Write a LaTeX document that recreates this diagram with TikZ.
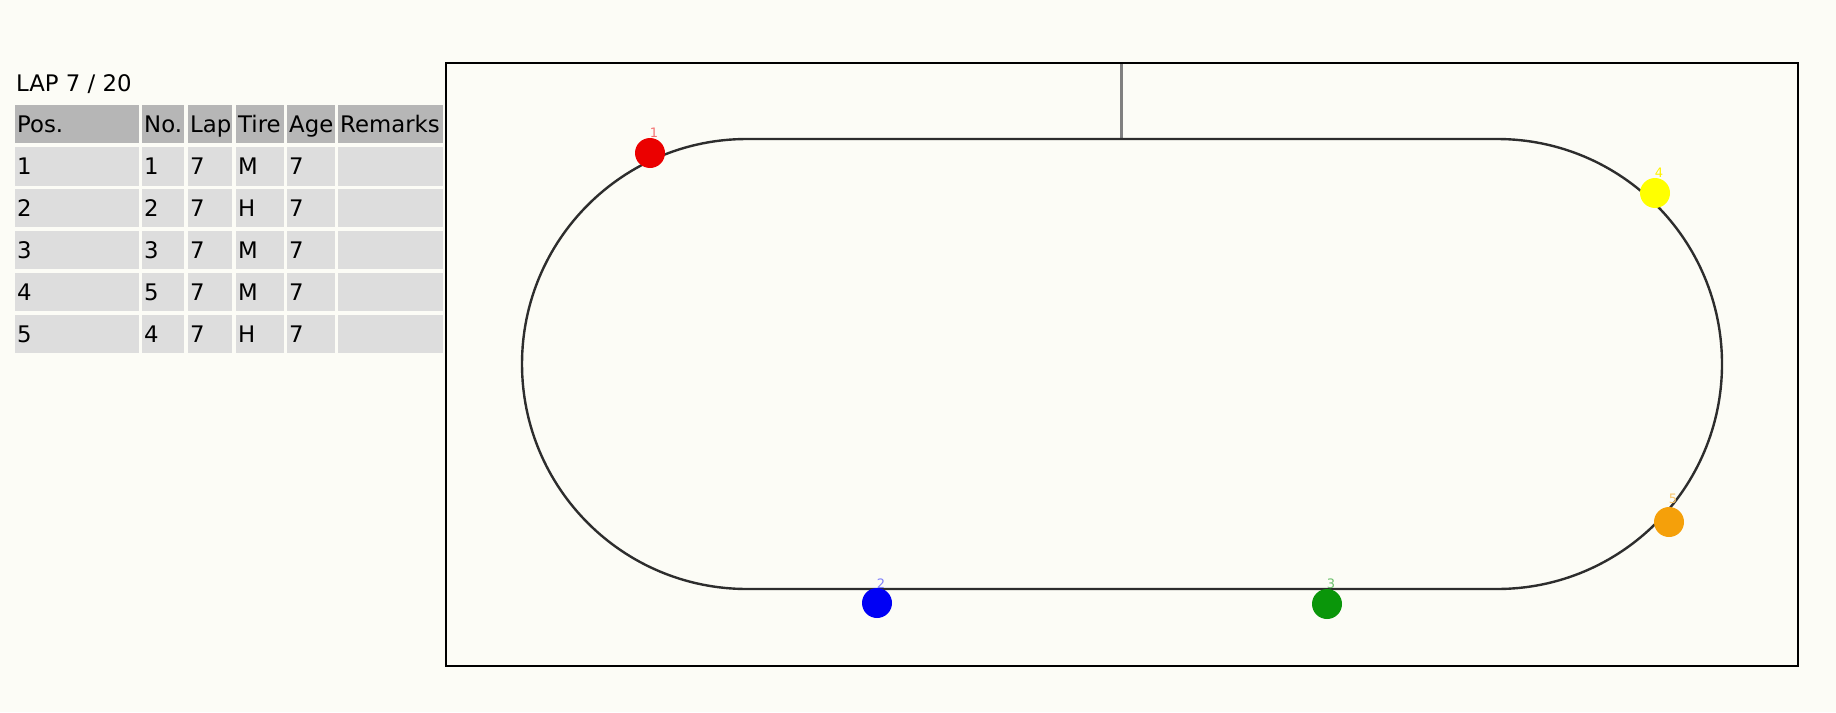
\documentclass[tikz,border=0pt]{standalone}
\usepackage{fontspec}
\setmainfont{DejaVu Sans}
\definecolor{bg}{RGB}{252,252,246}
\definecolor{hdr}{RGB}{182,182,182}
\definecolor{rowc}{RGB}{221,221,221}
\definecolor{trk}{RGB}{45,45,45}
\definecolor{startc}{RGB}{128,128,128}
\definecolor{cred}{RGB}{235,0,0}
\definecolor{cyel}{RGB}{255,255,0}
\definecolor{corg}{RGB}{245,160,10}
\definecolor{cblu}{RGB}{0,0,245}
\definecolor{cgrn}{RGB}{10,150,10}
\begin{document}
\begin{tikzpicture}[x=1pt,y=-1pt,
  txt/.style={inner sep=0pt,anchor=base west,font=\fontsize{22.8}{24}\selectfont,text=black},
  hcell/.style={fill=hdr,draw=none},
  rcell/.style={fill=rowc,draw=none},
  car/.style={circle,minimum size=30pt,inner sep=0pt,draw=none},
  lbl/.style={inner sep=0pt,font=\fontsize{13}{13}\selectfont},
  track/.style={draw=trk,line width=2.4pt},
  startline/.style={draw=startc,line width=3pt},
  frame/.style={draw=black,line width=1.3pt}]
\fill[bg] (0,0) rectangle (1836,712);
\useasboundingbox (0,0) rectangle (1836,712);
% title
\node[txt] (lap) at (16,91) {LAP 7 / 20};
% table cells
\foreach \xa/\xb in {15/139,142/184,188/232,236/284,287/335,338/443}{
  \fill[hdr] (\xa,105) rectangle (\xb,143);
  \foreach \ya/\yb in {147/186,189/227,231/269,273/311,315/353}{
    \fill[rowc] (\xa,\ya) rectangle (\xb,\yb);
  }
}
% header texts
\node[txt] (hpos) at (17,132) {Pos.};
\node[txt] (hno) at (144,132) {No.};
\node[txt] (hlap) at (190,132) {Lap};
\node[txt] (htire) at (238,132) {Tire};
\node[txt] (hage) at (289,132) {Age};
\node[txt] (hrem) at (340,132) {Remarks};
% rows
\foreach \r/\p/\n/\t [count=\i] in {174/1/1/M,216/2/2/H,258/3/3/M,300/4/5/M,342/5/4/H}{
  \node[txt] (pos\i) at (17,\r) {\p};
  \node[txt] (no\i) at (144,\r) {\n};
  \node[txt] (lap\i) at (190,\r) {7};
  \node[txt] (tire\i) at (238,\r) {\t};
  \node[txt] (age\i) at (289,\r) {7};
}
% frame
\draw[frame] (446,63) rectangle (1798,666);
% start line
\coordinate (sA) at (1121.5,64);
\coordinate (sB) at (1121.5,139);
\draw[startline] (sA) -- (sB);
% track
\draw[track,rounded corners=225pt] (522,139) rectangle (1722,589);
% cars
\node[car,fill=cred] (car1) at (650,153) {};
\node[lbl,text=cred!55] (lab1) at (654,133) {1};
\node[car,fill=cyel] (car4) at (1655,193) {};
\node[lbl,text=cyel!90!orange] (lab4) at (1659,173) {4};
\node[car,fill=corg] (car5) at (1669,522) {};
\node[lbl,text=corg!60] (lab5) at (1673,499) {5};
\node[car,fill=cblu] (car2) at (877,603) {};
\node[lbl,text=cblu!50] (lab2) at (881,584) {2};
\node[car,fill=cgrn] (car3) at (1327,604) {};
\node[lbl,text=cgrn!60] (lab3) at (1331,584) {3};
\end{tikzpicture}
\end{document}
